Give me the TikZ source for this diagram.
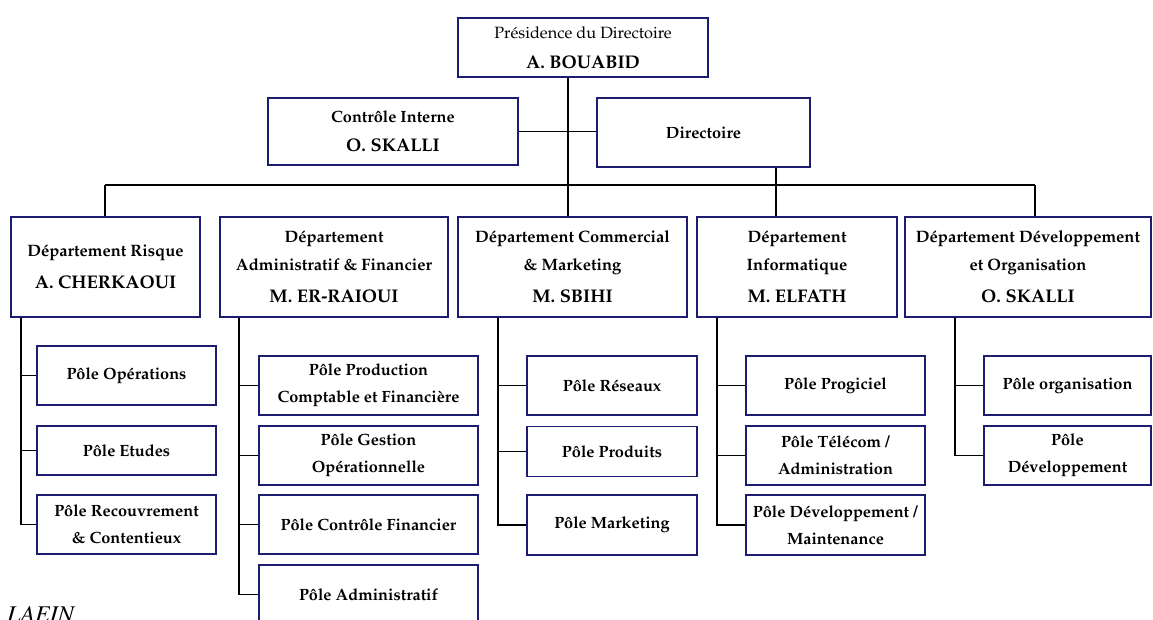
\documentclass[tikz,border=0pt]{standalone}
\usepackage[T1]{fontenc}
\renewcommand{\rmdefault}{ppl}
\definecolor{navy}{RGB}{28,28,112}
\tikzset{
  box/.style={draw=navy, line width=1.4pt, fill=white, inner sep=0pt, align=center},
  topbox/.style={box, font=\fontsize{16.3}{29}\selectfont},
  dept/.style={box, font=\fontsize{16.5}{28}\selectfont\bfseries},
  pole/.style={box, font=\fontsize{16.3}{27}\selectfont\bfseries},
  conn/.style={line width=1.4pt, black},
}
\newcommand{\bigname}[1]{{\fontsize{18.3}{28}\selectfont\bfseries #1}}
\begin{document}
\begin{tikzpicture}[x=1pt,y=-1pt]
\useasboundingbox (0,0) rectangle (1153,619);
% top level
\node[topbox, minimum width=250pt, minimum height=59pt] (pres) at (583,47.5)
  {Pr\'esidence du Directoire\\[1pt] \bigname{A. BOUABID}};
\node[topbox, minimum width=250pt, minimum height=67pt] (ctrl) at (393,131.5)
  {\textbf{Contr\^ole Interne}\\ \bigname{O. SKALLI}};
\node[topbox, minimum width=213pt, minimum height=69pt] (dir) at (703.5,132.5)
  {\textbf{Directoire}};
% departments
\node[dept, minimum width=189pt, minimum height=100pt] (risk) at (105.5,267)
  {D\'epartement Risque\\[4pt] \bigname{A. CHERKAOUI}};
\node[dept, minimum width=228pt, minimum height=100pt] (adm) at (334,267)
  {D\'epartement\\ Administratif \& Financier\\[4pt] \bigname{M. ER-RAIOUI}};
\node[dept, minimum width=229pt, minimum height=100pt] (com) at (572.5,267)
  {D\'epartement Commercial\\ \& Marketing\\[4pt] \bigname{M. SBIHI}};
\node[dept, minimum width=200pt, minimum height=100pt] (inf) at (797,267)
  {D\'epartement\\ Informatique\\[4pt] \bigname{M. ELFATH}};
\node[dept, minimum width=246pt, minimum height=100pt] (dev) at (1028,267)
  {D\'epartement D\'eveloppement\\ et Organisation\\[4pt] \bigname{O. SKALLI}};
% poles - risque
\node[pole, minimum width=179pt, minimum height=59pt] (op) at (126.5,375.5) {P\^ole Op\'erations};
\node[pole, minimum width=179pt, minimum height=49pt] (et) at (126.5,450.5) {P\^ole Etudes};
\node[pole, minimum width=179pt, minimum height=59pt] (rec) at (126.5,524.5) {P\^ole Recouvrement\\ \& Contentieux};
% poles - adm
\node[pole, minimum width=219pt, minimum height=59pt] (prod) at (368.5,385.5) {P\^ole Production\\ Comptable et Financi\`ere};
\node[pole, minimum width=219pt, minimum height=59pt] (gest) at (368.5,455.5) {P\^ole Gestion\\ Op\'erationnelle};
\node[pole, minimum width=219pt, minimum height=59pt] (cfin) at (368.5,524.5) {P\^ole Contr\^ole Financier};
\node[pole, minimum width=219pt, minimum height=59pt] (padm) at (368.5,594.5) {P\^ole Administratif};
% poles - commercial
\node[pole, minimum width=170pt, minimum height=59pt] (res) at (612,385.5) {P\^ole R\'eseaux};
\node[pole, minimum width=170pt, minimum height=50pt] (cprod) at (612,451.5) {P\^ole Produits};
\node[pole, minimum width=170pt, minimum height=60pt] (mkt) at (612,525) {P\^ole Marketing};
% poles - informatique
\node[pole, minimum width=179pt, minimum height=59pt] (prog) at (835.5,385.5) {P\^ole Progiciel};
\node[pole, minimum width=179pt, minimum height=59pt] (tel) at (835.5,455.5) {P\^ole T\'el\'ecom /\\ Administration};
\node[pole, minimum width=179pt, minimum height=60pt] (dm) at (835.5,525) {P\^ole D\'eveloppement /\\ Maintenance};
% poles - developpement
\node[pole, minimum width=167pt, minimum height=59pt] (org) at (1067.5,385.5) {P\^ole organisation};
\node[pole, minimum width=167pt, minimum height=59pt] (pdev) at (1067.5,455.5) {P\^ole\\ D\'eveloppement};
% footer fragment
\node[anchor=base west, inner sep=0pt, font=\fontfamily{ptm}\fontsize{24}{24}\selectfont\itshape] (laein) at (7,622) {LAEIN};
% connectors top
\coordinate (cx) at (568,0);
\coordinate (dx) at (776,0);
\coordinate (busL) at (105,185);
\coordinate (busR) at (1035,185);
\draw[conn] (cx |- pres.south) -- (cx |- com.north);
\draw[conn] (ctrl.east) -- (ctrl.east -| dir.west);
\draw[conn] (dx |- dir.south) -- (dx |- inf.north);
\draw[conn] (busL) -- (busR);
\draw[conn] (busL) -- (busL |- risk.north);
\draw[conn] (busR) -- (busR |- dev.north);
% spines
\coordinate (sr) at (21,0);
\coordinate (sa) at (239,0);
\coordinate (sc) at (498,0);
\coordinate (si) at (717,0);
\coordinate (sd) at (955,0);
\draw[conn] (sr |- risk.south) -- (sr |- rec.west) -- (rec.west);
\draw[conn] (sr |- op.west) -- (op.west);
\draw[conn] (sr |- et.west) -- (et.west);
\draw[conn] (sa |- adm.south) -- (sa |- padm.west) -- (padm.west);
\draw[conn] (sa |- prod.west) -- (prod.west);
\draw[conn] (sa |- gest.west) -- (gest.west);
\draw[conn] (sa |- cfin.west) -- (cfin.west);
\draw[conn] (sc |- com.south) -- (sc |- mkt.west) -- (mkt.west);
\draw[conn] (sc |- res.west) -- (res.west);
\draw[conn] (sc |- cprod.west) -- (cprod.west);
\draw[conn] (si |- inf.south) -- (si |- dm.west) -- (dm.west);
\draw[conn] (si |- prog.west) -- (prog.west);
\draw[conn] (si |- tel.west) -- (tel.west);
\draw[conn] (sd |- dev.south) -- (sd |- pdev.west) -- (pdev.west);
\draw[conn] (sd |- org.west) -- (org.west);
\end{tikzpicture}
\end{document}
